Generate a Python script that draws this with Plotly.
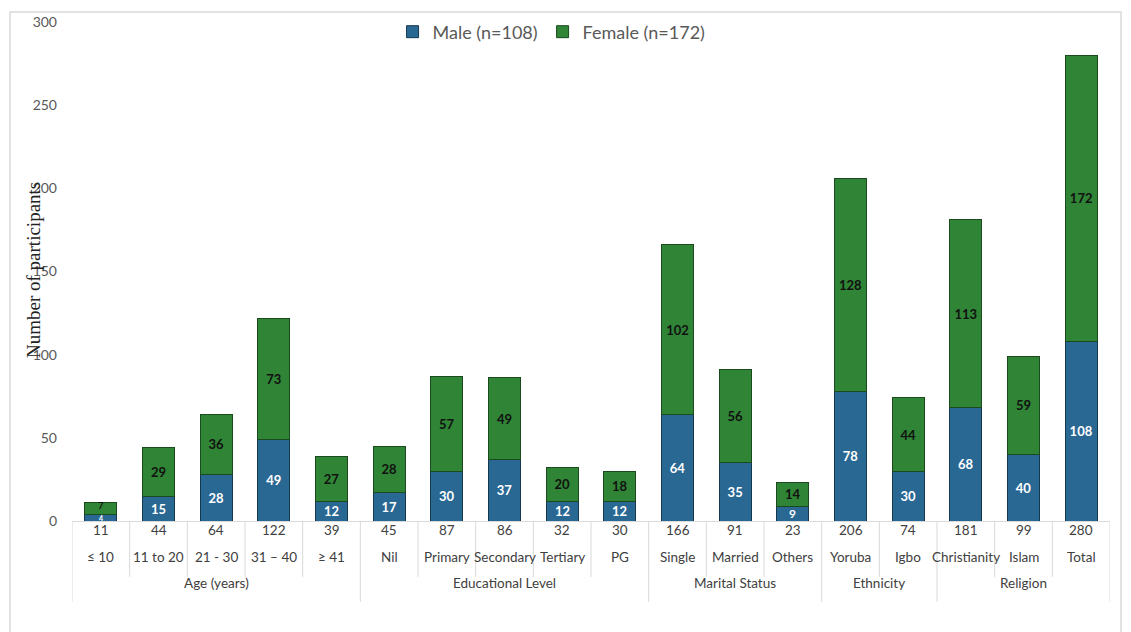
import plotly.graph_objects as go

categories = ["≤ 10", "11 to 20", "21 - 30", "31 – 40", "≥ 41",
              "Nil", "Primary", "Secondary", "Tertiary", "PG",
              "Single", "Married", "Others",
              "Yoruba", "Igbo",
              "Christianity", "Islam", "Total"]
male = [4, 15, 28, 49, 12, 17, 30, 37, 12, 12, 64, 35, 9, 78, 30, 68, 40, 108]
female = [7, 29, 36, 73, 27, 28, 57, 49, 20, 18, 102, 56, 14, 128, 44, 113, 59, 172]
groups = ["Age (years)", "Educational Level", "Marital Status", "Ethnicity", "Religion"]
group_sizes = [5, 5, 3, 2, 3]
y_ticks = [0, 50, 100, 150, 200, 250, 300]

totals = [m + f for m, f in zip(male, female)]
xs = list(range(len(categories)))
SMALL = 13  # segments smaller than this get an annotation label instead
PX_PER_UNIT = 499 / 300

FONT = "Lato"
male_text = ["" if v < SMALL else str(v) for v in male]
female_text = ["" if v < SMALL else str(v) for v in female]

fig = go.Figure()
fig.add_trace(go.Bar(
    x=xs, y=male, name="Male (n=108)", width=0.56,
    marker=dict(color="#2a6894", line=dict(color="#16384f", width=1)),
    text=male_text, textposition="inside", insidetextanchor="middle", textangle=0,
    textfont=dict(color="white", size=13, family=FONT, weight="bold"),
))
fig.add_trace(go.Bar(
    x=xs, y=female, name="Female (n=172)", width=0.56,
    marker=dict(color="#2f8435", line=dict(color="#1a4a1d", width=1)),
    text=female_text, textposition="inside", insidetextanchor="middle", textangle=0,
    textfont=dict(color="#111111", size=13, family=FONT, weight="bold"),
))

shapes = []
annotations = []


def small_size(v):
    return min(13, max(7, v * PX_PER_UNIT * 0.8))


for i, (m, f) in enumerate(zip(male, female)):
    if m < SMALL:
        annotations.append(dict(x=i, y=m / 2, xref="x", yref="y", text=str(m), showarrow=False,
                                borderpad=0,
                                font=dict(size=small_size(m), color="white", family=FONT, weight="bold")))
    if f < SMALL:
        annotations.append(dict(x=i, y=m + f / 2, xref="x", yref="y", text=str(f), showarrow=False,
                                yshift=3 if f < 10 else 0, borderpad=0,
                                font=dict(size=small_size(f), color="#111111", family=FONT, weight="bold")))

line_col = "#d9d9d9"
short_y = -0.112
long_y = -0.162
bounds = []
acc = 0
for s in group_sizes:
    acc += s
    bounds.append(acc - 0.5)
for xb in [-0.5, len(categories) - 0.5]:
    shapes.append(dict(type="line", xref="x", yref="paper", x0=xb, x1=xb, y0=0, y1=long_y,
                       line=dict(color=line_col, width=1)))
for i in range(len(categories) - 1):
    xb = i + 0.5
    y1 = long_y if xb in bounds else short_y
    shapes.append(dict(type="line", xref="x", yref="paper", x0=xb, x1=xb, y0=0, y1=y1,
                       line=dict(color=line_col, width=1)))
for i, (c, t) in enumerate(zip(categories, totals)):
    annotations.append(dict(x=i, y=-0.038, xref="x", yref="paper", text=str(t), showarrow=False,
                            font=dict(size=13.5, color="#404040", family=FONT)))
    annotations.append(dict(x=i, y=-0.092, xref="x", yref="paper", text=c, showarrow=False,
                            font=dict(size=13.5, color="#404040", family=FONT)))
start = 0
for g, s in zip(groups, group_sizes):
    mid = start + (s - 1) / 2
    annotations.append(dict(x=mid, y=-0.144, xref="x", yref="paper", text=g, showarrow=False,
                            font=dict(size=13.5, color="#404040", family=FONT)))
    start += s
annotations.append(dict(x=-0.0376, y=0.503, xref="paper", yref="paper", text="Number of participants",
                        textangle=-90, showarrow=False, xanchor="center", yanchor="middle",
                        font=dict(size=19, color="#222222", family="Liberation Serif")))
shapes.append(dict(type="rect", xref="paper", yref="paper", x0=-0.0597, x1=1.0106, y0=-0.235, y1=1.02,
                   line=dict(color="#d9d9d9", width=1.5), fillcolor="rgba(0,0,0,0)", layer="below"))

fig.update_layout(
    barmode="stack",
    width=1131, height=632,
    margin=dict(l=72, r=21, t=22, b=111),
    paper_bgcolor="white", plot_bgcolor="white",
    font=dict(family=FONT),
    legend=dict(orientation="h", x=0.462, xanchor="center", y=0.98, yanchor="middle",
                font=dict(size=18, color="#595959", family=FONT), bgcolor="rgba(0,0,0,0)",
                traceorder="normal"),
    xaxis=dict(range=[-0.5, len(categories) - 0.5], showticklabels=False, showgrid=False,
               showline=True, linecolor=line_col, linewidth=1, zeroline=False, ticks=""),
    yaxis=dict(range=[0, 300], tickvals=y_ticks, showgrid=False, zeroline=False, showline=False,
               tickfont=dict(size=14, color="#595959", family=FONT), ticklabelstandoff=14),
    shapes=shapes, annotations=annotations,
)
fig.write_html("out.html")
